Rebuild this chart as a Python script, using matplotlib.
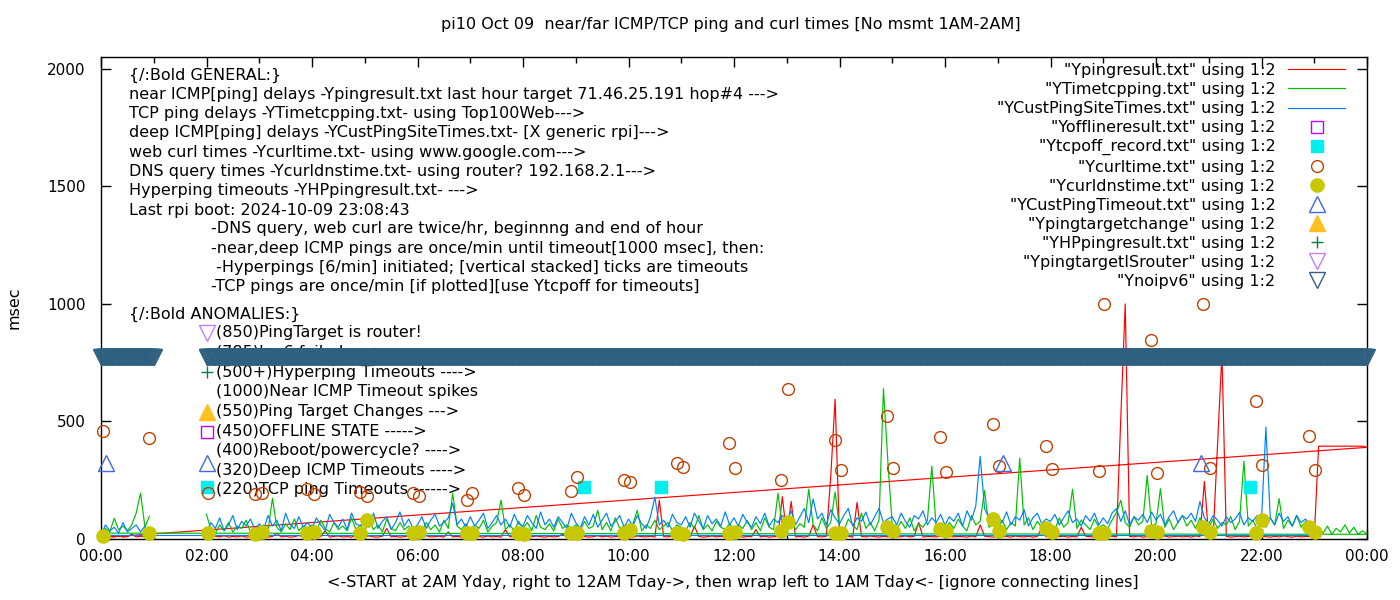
import numpy as np
import matplotlib.pyplot as plt

plt.rcParams['font.family'] = ['DejaVu Sans']

title = "pi10 Oct 09  near/far ICMP/TCP ping and curl times [No msmt 1AM-2AM]"
x_title = "<-START at 2AM Yday, right to 12AM Tday->, then wrap left to 1AM Tday<- [ignore connecting lines]"

# 5 minute samples (msec). part A = file start at 02:00, part B = 00:00-00:55 after the wrap
ping_a = [10, 8, 12, 9, 14, 8, 11, 9, 13, 8, 10, 12,
          9, 14, 8, 11, 25, 9, 12, 8, 10, 15, 9, 11,
          12, 9, 10, 35, 8, 11, 13, 9, 10, 8, 14, 9,
          10, 13, 9, 8, 12, 45, 9, 11, 8, 10, 13, 9,
          11, 8, 14, 9, 10, 12, 8, 30, 9, 11, 8, 12,
          9, 12, 10, 8, 13, 9, 11, 8, 40, 10, 9, 12,
          8, 11, 9, 13, 10, 8, 12, 9, 11, 20, 8, 10,
          12, 9, 11, 8, 10, 14, 9, 12, 8, 11, 10, 9,
          11, 8, 13, 10, 9, 12, 8, 165, 10, 9, 13, 8,
          10, 12, 9, 55, 11, 8, 10, 13, 9, 12, 8, 11,
          9, 13, 8, 11, 10, 40, 9, 12, 8, 10, 11, 180,
          12, 160, 9, 11, 8, 13, 60, 10, 9, 12, 263, 595,
          10, 9, 12, 8, 156, 11, 9, 13, 10, 8, 12, 9,
          11, 8, 10, 13, 9, 12, 70, 8, 11, 10, 9, 12,
          8, 12, 9, 11, 10, 8, 13, 9, 60, 12, 10, 8,
          12, 9, 11, 8, 13, 10, 9, 12, 8, 11, 45, 10,
          9, 13, 10, 12, 8, 11, 9, 50, 12, 10, 8, 11,
          10, 8, 12, 9, 520, 1000, 11, 9, 13, 8, 10, 12,
          11, 9, 13, 8, 10, 12, 9, 11, 8, 13, 10, 245,
          9, 12, 400, 790, 11, 8, 10, 12, 9, 11, 13, 8,
          12, 10, 8, 11, 9, 13, 10, 8, 12, 9, 11, 10,
          9, 395, 395, 395, 395, 395, 395, 395, 395, 395, 395, 395,
          390]
ping_b = [6, 8, 12, 9, 15, 8, 10, 20, 9, 12, 8, 10]

tcp_a = [105, 40, 25, 60, 35, 70, 30, 55, 45, 80, 30, 50,
         40, 60, 35, 173, 50, 30, 65, 40, 85, 35, 55, 45,
         60, 35, 80, 45, 30, 70, 40, 55, 35, 90, 40, 60,
         35, 75, 40, 60, 30, 85, 45, 35, 70, 40, 55, 30,
         50, 35, 70, 40, 60, 30, 80, 45, 195, 55, 40, 65,
         35, 60, 45, 80, 30, 55, 70, 165, 40, 60, 35, 75,
         45, 70, 35, 100, 50, 40, 65, 35, 85, 45, 60, 40,
         60, 35, 75, 45, 55, 122, 40, 70, 35, 90, 45, 55,
         40, 65, 122, 35, 60, 45, 80, 40, 55, 70, 35, 60,
         50, 35, 70, 45, 100, 40, 60, 35, 75, 50, 40, 65,
         35, 60, 45, 80, 40, 70, 35, 90, 50, 40, 195, 55,
         45, 80, 40, 65, 50, 212, 60, 35, 90, 45, 70, 200,
         50, 35, 85, 60, 40, 110, 45, 70, 35, 80, 640, 330,
         60, 40, 75, 45, 90, 35, 65, 50, 80, 310, 45, 60,
         40, 70, 45, 85, 55, 35, 100, 60, 75, 207, 50, 65,
         45, 80, 40, 70, 55, 345, 60, 90, 40, 75, 50, 65,
         55, 40, 90, 50, 70, 212, 45, 80, 60, 40, 85, 50,
         60, 45, 80, 113, 165, 70, 50, 95, 60, 75, 270, 55,
         65, 214, 50, 85, 40, 70, 100, 55, 80, 45, 90, 60,
         50, 85, 45, 70, 60, 95, 40, 75, 331, 55, 80, 45,
         70, 50, 90, 60, 172, 45, 80, 55, 100, 50, 75, 45,
         60, 40, 25, 55, 20, 45, 30, 60, 25, 50, 20, 35,
         20]
tcp_b = [25, 45, 30, 88, 40, 55, 35, 60, 110, 195, 50, 97]

cust_a = [30, 70, 45, 90, 35, 60, 100, 40, 75, 55, 85, 40,
          65, 40, 100, 55, 80, 35, 110, 60, 45, 95, 50, 70,
          45, 90, 60, 35, 105, 70, 50, 85, 40, 110, 65, 55,
          80, 50, 110, 45, 75, 95, 40, 70, 115, 55, 85, 45,
          60, 95, 45, 80, 105, 55, 70, 90, 152, 60, 85, 50,
          95, 55, 80, 110, 45, 70, 100, 60, 85, 50, 105, 65,
          55, 100, 70, 45, 115, 60, 85, 50, 95, 70, 45, 110,
          70, 45, 95, 60, 105, 50, 80, 110, 55, 75, 100, 50,
          85, 55, 100, 65, 45, 95, 178, 60, 80, 50, 105, 70,
          60, 95, 50, 110, 75, 45, 100, 65, 85, 55, 115, 60,
          90, 55, 105, 70, 50, 95, 65, 110, 55, 85, 70, 100,
          75, 120, 60, 95, 130, 70, 170, 85, 110, 60, 125, 90,
          65, 100, 130, 55, 90, 75, 115, 60, 95, 130, 70, 85,
          95, 60, 110, 75, 50, 100, 85, 120, 60, 90, 70, 105,
          60, 95, 75, 110, 55, 120, 80, 140, 352, 130, 90, 65,
          100, 70, 115, 60, 95, 80, 125, 55, 90, 110, 65, 85,
          75, 105, 60, 90, 120, 70, 85, 55, 100, 75, 110, 60,
          90, 65, 110, 130, 75, 120, 60, 95, 80, 105, 70, 115,
          80, 105, 60, 95, 120, 70, 100, 85, 110, 75, 160, 90,
          65, 100, 80, 55, 95, 70, 85, 113, 60, 90, 75, 100,
          85, 476, 90, 60, 110, 75, 95, 55, 100, 70, 85, 60,
          40, 15]
cust_b = [15, 60, 35, 50, 25, 70, 30, 45, 60, 30, 55, 25]

# curl / dns: twice per hour (hours, msec)
curl_t = [0.04, 0.91, 2.03, 2.92, 3.05, 3.9, 4.04, 4.91, 5.04, 5.91, 6.03, 6.94, 7.03,
          7.9, 8.02, 8.91, 9.02, 9.91, 10.03, 10.92, 11.03, 11.9, 12.02, 12.9, 13.02,
          13.91, 14.03, 14.9, 15.01, 15.9, 16.02, 16.91, 17.02, 17.91, 18.03, 18.92,
          19.01, 19.91, 20.02, 20.89, 21.02, 21.9, 22.01, 22.9, 23.01]
curl_v = [460, 428, 195, 191, 195, 212, 191, 199, 182, 194, 182, 165, 195,
          216, 186, 203, 263, 250, 242, 323, 306, 408, 301, 250, 638,
          421, 293, 523, 301, 434, 284, 489, 310, 395, 297, 289,
          1000, 847, 281, 1000, 301, 587, 314, 438, 293]
dns_v = [11, 24, 24, 20, 28, 24, 28, 24, 80, 24, 28, 24, 24,
         24, 20, 24, 24, 24, 37, 24, 20, 24, 28, 32, 71,
         24, 24, 50, 32, 41, 32, 84, 32, 45, 28, 24,
         24, 32, 28, 50, 28, 24, 80, 50, 28]

offline_t, offline_v = [2.01], [455]
tcpoff_t, tcpoff_v = [2.01, 9.16, 10.62, 21.78], [220, 220, 220, 220]
custto_t, custto_v = [0.09, 2.01, 17.1, 20.85], [322, 322, 322, 322]
tgtchg_t, tgtchg_v = [2.01], [540]
hping_t, hping_v = [2.01], [710]
isrouter_t, isrouter_v = [2.01], [875]
# Ynoipv6: once per minute, 00:00-01:00 and 02:00-24:00
ipv6_spans = [(0.0, 1.0), (2.0, 24.0)]
ipv6_level = 773

general_lines = [
    "{/:Bold GENERAL:}",
    "near ICMP[ping] delays -Ypingresult.txt last hour target 71.46.25.191 hop#4 --->",
    "TCP ping delays -YTimetcpping.txt- using Top100Web--->",
    "deep ICMP[ping] delays -YCustPingSiteTimes.txt- [X generic rpi]--->",
    "web curl times -Ycurltime.txt- using www.google.com--->",
    "DNS query times -Ycurldnstime.txt- using router? 192.168.2.1--->",
    "Hyperping timeouts -YHPpingresult.txt- --->",
    "Last rpi boot: 2024-10-09 23:08:43",
]
note_lines = [
    "-DNS query, web curl are twice/hr, beginnng and end of hour",
    "-near,deep ICMP pings are once/min until timeout[1000 msec], then:",
    " -Hyperpings [6/min] initiated; [vertical stacked] ticks are timeouts",
    "-TCP pings are once/min [if plotted][use Ytcpoff for timeouts]",
]
anomaly_lines = [
    "(850)PingTarget is router!",
    "(785)Ipv6 failed ---->",
    "(500+)Hyperping Timeouts ---->",
    "(1000)Near ICMP Timeout spikes",
    "(550)Ping Target Changes --->",
    "(450)OFFLINE STATE ----->",
    "(400)Reboot/powercycle? ---->",
    "(320)Deep ICMP Timeouts ---->",
    "(220)TCP ping Timeouts ------>",
]


def times(start, vals):
    return start + np.arange(len(vals)) / 12.0


W, H = 1400, 600
FS = 11.5
fig = plt.figure(figsize=(14, 6), dpi=100)
ax = fig.add_axes([101 / W, 61 / H, 1266 / W, 482 / H])

ping_x = np.concatenate([times(2, ping_a), times(0, ping_b)])
tcp_x = np.concatenate([times(2, tcp_a), times(0, tcp_b)])
cust_x = np.concatenate([times(2, cust_a), times(0, cust_b)])

lw = 0.85
ax.plot(ping_x, ping_a + ping_b, color='#ff0000', lw=lw, label='"Ypingresult.txt" using 1:2', zorder=2)
ax.plot(tcp_x, tcp_a + tcp_b, color='#00c000', lw=lw, label='"YTimetcpping.txt" using 1:2', zorder=2)
ax.plot(cust_x, cust_a + cust_b, color='#0080ff', lw=lw, label='"YCustPingSiteTimes.txt" using 1:2', zorder=2)

mk = dict(ls='none', clip_on=False, zorder=3)
ax.plot(offline_t, offline_v, marker='s', ms=8.5, mfc='none', mec='#c000ff', mew=1,
        label='"Yofflineresult.txt" using 1:2', **mk)
ax.plot(tcpoff_t, tcpoff_v, marker='s', ms=8.5, color='#00eeee',
        label='"Ytcpoff_record.txt" using 1:2', **mk)
ax.plot(curl_t, curl_v, marker='o', ms=8.5, mfc='none', mec='#c04000', mew=1,
        label='"Ycurltime.txt" using 1:2', **mk)
ax.plot(curl_t, dns_v, marker='o', ms=9.5, color='#c8c800',
        label='"Ycurldnstime.txt" using 1:2', **mk)
ax.plot(custto_t, custto_v, marker='^', ms=11, mfc='none', mec='#4169e1', mew=1,
        label='"YCustPingTimeout.txt" using 1:2', **mk)
ax.plot(tgtchg_t, tgtchg_v, marker='^', ms=11, color='#ffc020',
        label='"Ypingtargetchange" using 1:2', **mk)
ax.plot(hping_t, hping_v, marker='+', ms=9, mew=1, color='#008040',
        label='"YHPpingresult.txt" using 1:2', **mk)
ax.plot(isrouter_t, isrouter_v, marker='v', ms=11, mfc='none', mec='#c080ff', mew=1,
        label='"YpingtargetISrouter" using 1:2', **mk)

ipv6_t = np.concatenate([np.arange(a * 60, b * 60 + 1) / 60.0 for a, b in ipv6_spans])
ax.plot(ipv6_t, np.full(len(ipv6_t), ipv6_level), marker='v', ms=11, mfc='none',
        mec='#306080', mew=1, label='"Ynoipv6" using 1:2', **mk)


# text blocks (pixel rows of the reference converted to axes fractions)
def fy(py):
    return (539 - py) / 482.0


def fx(px):
    return (px - 101) / 1266.0


txt = dict(transform=ax.transAxes, fontsize=FS, va='center', ha='left', zorder=1)
for i, s in enumerate(general_lines):
    ax.text(fx(129), fy(75 + 19.3 * i), s, **txt)
for i, s in enumerate(note_lines):
    ax.text(fx(211), fy(229 + 19.3 * i), s, **txt)
ax.text(fx(129), fy(314), "{/:Bold ANOMALIES:}", **txt)
for i, s in enumerate(anomaly_lines):
    ax.text(fx(216), fy(333 + 19.6 * i), s, **txt)

ax.set_xlim(0, 24)
ax.set_ylim(0, 2051)
hours = list(range(0, 25, 2))
ax.set_xticks(hours)
ax.set_xticklabels([f"{h % 24:02d}:00" for h in hours])
ax.set_xticks(range(1, 24, 2), minor=True)
ax.set_yticks([0, 500, 1000, 1500, 2000])
ax.tick_params(which='both', direction='in', top=True, right=True, labelsize=11, width=1)
ax.tick_params(which='major', length=7)
ax.tick_params(which='minor', length=4)
ax.tick_params(axis='x', pad=7)
ax.tick_params(axis='y', pad=11)
for sp in ax.spines.values():
    sp.set_linewidth(1)

leg = ax.legend(loc='upper right', bbox_to_anchor=(1 - 22 / 1266, 1 - 6 / 482),
                frameon=False, markerfirst=False, fontsize=FS, numpoints=1,
                handlelength=3.55, handletextpad=0.8, labelspacing=0.255,
                borderpad=0, borderaxespad=0)

fig.text(731 / W, 1 - 25 / H, title, ha='center', va='center', fontsize=FS)
fig.text(733 / W, 1 - 583 / H, x_title, ha='center', va='center', fontsize=FS)
fig.text(14 / W, 1 - 308 / H, "msec", ha='center', va='center', rotation=90, fontsize=FS)

fig.savefig("out.png", dpi=100)
